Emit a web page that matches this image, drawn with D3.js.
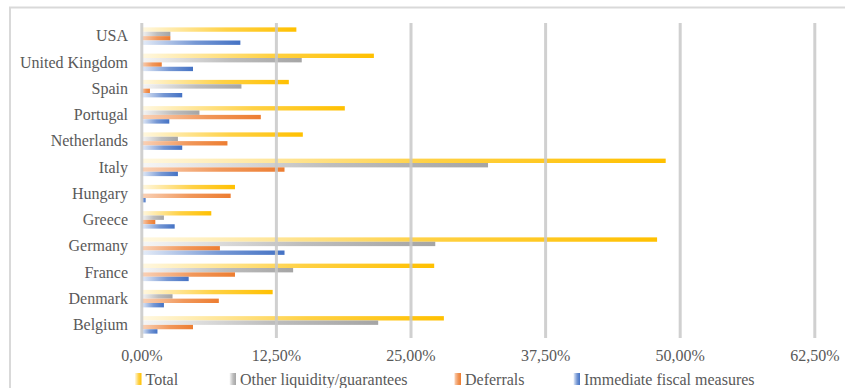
<!DOCTYPE html>
<html>
<head>
<meta charset="utf-8">
<script src="https://cdn.jsdelivr.net/npm/d3@7/dist/d3.min.js"></script>
<style>
  html, body { margin: 0; padding: 0; background: #fff; }
  svg { display: block; }
  svg text { font-family: 'Liberation Serif', 'Times New Roman', serif; fill: #595959; font-size: 16px; }
</style>
</head>
<body>
<svg id="chart" width="845" height="388" font-family="'Liberation Serif', serif"></svg>
<script>
// Countries, top to bottom
const countries = ["USA", "United Kingdom", "Spain", "Portugal", "Netherlands", "Italy",
  "Hungary", "Greece", "Germany", "France", "Denmark", "Belgium"];

// Measures as % of GDP
const total      = [14.4, 21.6, 13.7, 18.9, 15.0, 48.7, 8.7, 6.5, 47.9, 27.2, 12.2, 28.1];
const liquidity  = [2.7, 14.9, 9.3, 5.4, 3.4, 32.2, 0.0, 2.1, 27.3, 14.1, 2.9, 22.0];
const deferrals  = [2.7, 1.9, 0.8, 11.1, 8.0, 13.3, 8.3, 1.3, 7.3, 8.7, 7.2, 4.8];
const immediate  = [9.2, 4.8, 3.8, 2.6, 3.8, 3.4, 0.4, 3.1, 13.3, 4.4, 2.1, 1.5];

const seriesNames = ["Total", "Other liquidity/guarantees", "Deferrals", "Immediate fiscal measures"];
const seriesColors = ["#FFC000", "#A5A5A5", "#ED7D31", "#4472C4"];
const seriesStart = ["#FFF8E2", "#F6F6F6", "#F9D2B8", "#E6EDF8"];
const seriesValues = [total, liquidity, deferrals, immediate];

const xTicks = [0, 12.5, 25, 37.5, 50, 62.5];
const FONT = "'Liberation Serif', 'Times New Roman', serif";

const svg = d3.select("#chart");

// chart area frame
svg.append("rect")
  .attr("x", 10).attr("y", 7.5)
  .attr("width", 845).attr("height", 400)
  .attr("fill", "none").attr("stroke", "#d9d9d9").attr("stroke-width", 2);

const x = d3.scaleLinear().domain([0, 62.5]).range([141.3, 814.3]);
const y = d3.scaleBand().domain(countries).range([23, 338])
  .paddingInner(1 / 3).paddingOuter(1 / 6);
const ySub = d3.scaleBand().domain(d3.range(4)).range([0, y.bandwidth()]);

// horizontal gradients, one per series
const defs = svg.append("defs");
seriesColors.forEach((c, i) => {
  const g = defs.append("linearGradient").attr("id", "grad" + i)
    .attr("x1", "0").attr("x2", "1").attr("y1", "0").attr("y2", "0");
  g.append("stop").attr("offset", "0").attr("stop-color", seriesStart[i]);
  g.append("stop").attr("offset", "0.55").attr("stop-color", d3.interpolateRgb(seriesStart[i], c)(0.7));
  g.append("stop").attr("offset", "1").attr("stop-color", c);
});

// bars
const rows = countries.map((c, ci) => ({ country: c, values: seriesValues.map(s => s[ci]) }));
const groups = svg.append("g").selectAll("g").data(rows).join("g")
  .attr("transform", d => `translate(0,${y(d.country)})`);
groups.selectAll("rect")
  .data(d => d.values.map((v, si) => ({ v, si })))
  .join("rect")
  .attr("x", x(0))
  .attr("y", d => ySub(d.si))
  .attr("height", ySub.bandwidth())
  .attr("width", d => Math.max(0, x(d.v) - x(0)))
  .attr("fill", d => `url(#grad${d.si})`);

// vertical gridlines and percentage labels
const xAxis = d3.axisBottom(x).tickValues(xTicks)
  .tickSize(-(338 - 23))
  .tickFormat(d => d3.format(".2f")(d).replace(".", ",") + "%");
const gx = svg.append("g").attr("transform", "translate(0,338)").call(xAxis)
  .attr("font-family", FONT).attr("font-size", 16);
gx.select(".domain").remove();
gx.selectAll(".tick line").attr("stroke", "#c8c8c8").attr("stroke-opacity", 0.85).attr("stroke-width", 3);
gx.selectAll(".tick text")
  .attr("y", 23).attr("dy", 0)
  .attr("fill", "#595959");

// category labels
const yAxis = d3.axisLeft(y).tickSize(0).tickPadding(0);
const gy = svg.append("g").attr("transform", "translate(128,0)").call(yAxis)
  .attr("font-family", FONT).attr("font-size", 16);
gy.select(".domain").remove();
gy.selectAll(".tick text").attr("fill", "#595959");

// legend
const legendX = [135, 229.5, 454.5, 573.5];
const legend = svg.append("g").attr("font-family", FONT).attr("font-size", 16)
  .selectAll("g").data(seriesNames).join("g")
  .attr("transform", (d, i) => `translate(${legendX[i]},373)`);
legend.append("rect")
  .attr("width", 6.5).attr("height", 12)
  .attr("fill", (d, i) => `url(#grad${i})`);
legend.append("text")
  .attr("x", 10.5).attr("y", 12)
  .attr("fill", "#595959")
  .text(d => d);
</script>
</body>
</html>
